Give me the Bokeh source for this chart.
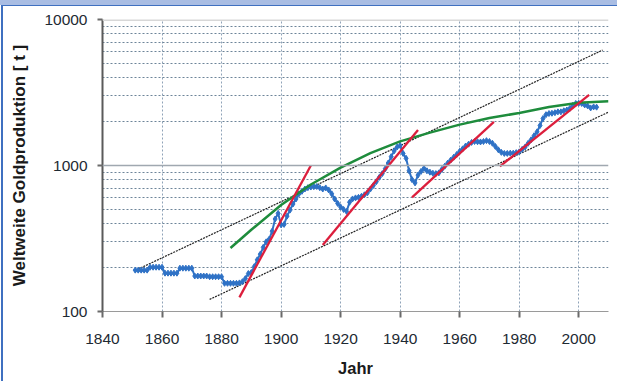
from bokeh.plotting import figure
from bokeh.models import FixedTicker, Span, PrintfTickFormatter, Div
from bokeh.layouts import row, column
from bokeh.embed import file_html
from bokeh.resources import INLINE

# ---- data -------------------------------------------------------------
years = list(range(1851, 2007))
production = [
    192, 192, 192, 192, 192,            # 1851-1855
    201, 201, 201, 201, 201,            # 1856-1860
    183, 183, 183, 183, 183,            # 1861-1865
    198, 198, 198, 198, 198,            # 1866-1870
    175, 175, 175, 175, 175,            # 1871-1875
    173, 173, 173, 173, 173,            # 1876-1880
    156, 156, 156, 156, 156,            # 1881-1885
    157, 160, 168, 182, 185,            # 1886-1890
    203, 226, 247, 275, 300,            # 1891-1895
    313, 355, 430, 470, 392,            # 1896-1900
    395, 450, 495, 545, 590,            # 1901-1905
    640, 665, 690, 705, 712,            # 1906-1910
    716, 718, 705, 690, 702,            # 1911-1915
    680, 640, 590, 550, 520,            # 1916-1920
    500, 485, 560, 590, 600,            # 1921-1925
    605, 615, 630, 650, 690,            # 1926-1930
    730, 775, 830, 880, 950,            # 1931-1935
    1040, 1150, 1260, 1340, 1370,       # 1936-1940
    1210, 1120, 920, 800, 760,          # 1941-1945
    860, 910, 955, 920, 900,            # 1946-1950
    885, 880, 890, 940, 990,            # 1951-1955
    1040, 1090, 1140, 1190, 1250,       # 1956-1960
    1300, 1360, 1400, 1440, 1460,       # 1961-1965
    1455, 1450, 1460, 1480, 1460,       # 1966-1970
    1420, 1350, 1280, 1230, 1210,       # 1971-1975
    1210, 1215, 1215, 1225, 1240,       # 1976-1980
    1290, 1340, 1420, 1500, 1600,       # 1981-1985
    1700, 1880, 2100, 2230, 2270,       # 1986-1990
    2280, 2300, 2330, 2330, 2370,       # 1991-1995
    2400, 2460, 2580, 2660, 2670,       # 1996-2000
    2660, 2600, 2560, 2480, 2520,       # 2001-2005
    2510,                               # 2006
]
assert len(years) == len(production)

# green trend curve
trend_years = [1883, 1890, 1900, 1910, 1920, 1930, 1940, 1950, 1960, 1970, 1980, 1990, 2000, 2010]
trend_values = [272, 363, 537, 741, 966, 1216, 1462, 1679, 1905, 2113, 2291, 2512, 2692, 2754]

# red growth segments
red_x0 = [1886.0, 1914.0, 1944.0, 1973.5]
red_y0 = [125, 285, 605, 985]
red_x1 = [1910.0, 1946.0, 1971.5, 2003.5]
red_y1 = [1000, 1750, 1990, 3050]

# black dotted channel lines
chan_x0 = [1851.0, 1876.0]
chan_y0 = [191, 121]
chan_x1 = [2008.0, 2010.0]
chan_y1 = [6170, 2320]

x_ticks = [1840, 1860, 1880, 1900, 1920, 1940, 1960, 1980, 2000]
y_ticks = [100, 1000, 10000]
y_minor = [200, 300, 400, 500, 600, 700, 800, 900,
           2000, 3000, 4000, 5000, 6000, 7000, 8000, 9000]

# ---- figure -----------------------------------------------------------
p = figure(width=614, height=375, x_range=(1840, 2010), y_range=(100, 10000),
           y_axis_type="log", output_backend="svg", toolbar_location=None,
           min_border_left=99, min_border_right=9, min_border_top=13,
           min_border_bottom=70)
p.outline_line_color = None
p.background_fill_color = "white"
p.border_fill_color = "white"

p.xaxis.ticker = FixedTicker(ticks=x_ticks)
p.yaxis.ticker = FixedTicker(ticks=y_ticks, minor_ticks=y_minor)
p.yaxis.formatter = PrintfTickFormatter(format="%d")

font = "Liberation Sans"
for ax in (p.xaxis[0], p.yaxis[0]):
    ax.major_label_text_font = font
    ax.major_label_text_font_size = "15.5px"
    ax.major_label_text_color = "#1e2a33"
    ax.axis_label_text_font = font
    ax.axis_label_text_font_size = "16.5px"
    ax.axis_label_text_font_style = "bold"
    ax.axis_label_text_color = "#1a1a1a"
    ax.minor_tick_line_color = None
    ax.major_tick_in = 0
    ax.major_tick_line_color = "#6a6a6a"
    ax.major_tick_line_width = 2

p.xaxis.axis_label = "Jahr"
p.yaxis.axis_label = "Weltweite Goldproduktion [ t ]"
p.yaxis.axis_label_text_font_size = "17px"
p.xaxis.axis_line_color = "#9a9a9a"
p.xaxis.axis_line_width = 1
p.xaxis.major_tick_out = 6
p.xaxis.major_label_standoff = 16
p.xaxis.axis_label_standoff = 12
p.yaxis.axis_line_color = "#5a5a5a"
p.yaxis.axis_line_width = 2
p.yaxis.major_tick_out = 5
p.yaxis.major_label_standoff = 10
p.yaxis.axis_label_standoff = 12

p.xgrid.grid_line_color = "#8fa3b8"
p.xgrid.grid_line_dash = "2 2"
p.xgrid.grid_line_width = 1
p.ygrid.grid_line_color = None
p.ygrid.minor_grid_line_color = "#6d8499"
p.ygrid.minor_grid_line_dash = "2 2"
p.ygrid.minor_grid_line_width = 1

p.add_layout(Span(location=1000, dimension="width", line_color="#a0a8b0", line_width=1.5))
p.add_layout(Span(location=10000, dimension="width", line_color="#d8d8d8", line_width=3))

# channel lines
p.segment(x0=chan_x0, y0=chan_y0, x1=chan_x1, y1=chan_y1,
          line_color="#222222", line_width=1.2, line_dash="2 1")

# production series
p.line(years, production, line_color="#2f72c6", line_width=2)
p.scatter(years, production, marker="diamond", size=6,
          fill_color="#2f72c6", line_color="#2f72c6")

# trend curve
p.line(trend_years, trend_values, line_color="#1e8c3c", line_width=2.5)

# red growth lines
p.segment(x0=red_x0, y0=red_y0, x1=red_x1, y1=red_y1,
          line_color="#dc1e3c", line_width=2.3)

# frame decoration: light blue header band and blue left border
left_strip = Div(text="", width=3, height=381, margin=0,
                 styles={"background": "linear-gradient(#a9bde3 0 5px, transparent 5px), "
                                       "linear-gradient(to right, #ffffff 0 1px, #3f70c0 1px 3px)"})
top_band = Div(text="", width=614, height=6, margin=0,
               styles={"background": "linear-gradient(#a9bde3 0 5px, #3f70c0 5px 6px)"})

layout = row(left_strip, column(top_band, p, spacing=0), spacing=0)

open("out.html", "w").write(file_html(layout, INLINE))
